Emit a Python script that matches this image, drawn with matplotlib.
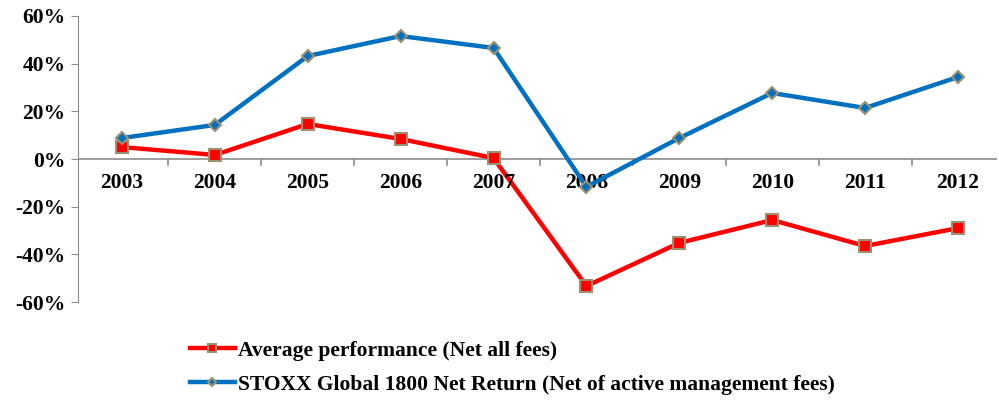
import matplotlib.pyplot as plt
from matplotlib.ticker import FuncFormatter

years = ['2003', '2004', '2005', '2006', '2007', '2008', '2009', '2010', '2011', '2012']
avg_perf = [5.0, 1.7, 14.7, 8.4, 0.4, -53.3, -35.2, -25.6, -36.5, -29.0]
stoxx = [8.8, 14.3, 43.2, 51.6, 46.6, -11.7, 8.8, 27.7, 21.4, 34.4]
y_ticks = [-60, -40, -20, 0, 20, 40, 60]

plt.rcParams['font.family'] = ['Liberation Serif', 'DejaVu Serif']
plt.rcParams['font.weight'] = 'bold'

fig = plt.figure(figsize=(9.99, 4.03), dpi=100)
ax = fig.add_axes([0.078, 0.2506, 0.92, 0.7097])

x = list(range(len(years)))
ax.plot(x, avg_perf, color='#ff0000', lw=3.2, marker='s', ms=8,
        mfc='#ff0000', mec='#9c9070', mew=1.5,
        label='Average performance (Net all fees)', zorder=3)
ax.plot(x, stoxx, color='#0070c0', lw=3.2, marker='D', ms=6,
        mfc='#0070c0', mec='#9c9070', mew=1.5,
        label='STOXX Global 1800 Net Return (Net of active management fees)', zorder=4)

ax.set_xlim(-0.474, 9.42)
ax.set_ylim(-60, 60)
ax.set_yticks(y_ticks)
ax.yaxis.set_major_formatter(FuncFormatter(lambda v, p: '%d%%' % v))

for s in ['top', 'right', 'bottom']:
    ax.spines[s].set_visible(False)
ax.spines['left'].set_color('#8c8c8c')
ax.axhline(0, color='#8c8c8c', lw=1.2, zorder=1)

# category labels sit just under the zero line
ax.set_xticks([])
for i, yr in enumerate(years):
    ax.text(i, -10, yr, ha='center', va='center', fontsize=15.5, fontweight='bold')
for b in [i + 0.5 for i in range(len(years) - 1)]:
    ax.plot([b, b], [0, -2.5], color='#8c8c8c', lw=1.2, zorder=1)

ax.tick_params(axis='y', length=5, color='#8c8c8c', labelsize=15.5, pad=4)

fig.legend(loc='upper left', bbox_to_anchor=(0.190, 0.155), frameon=False,
           fontsize=15.5, handlelength=2.1, handletextpad=0.15, labelspacing=0.65,
           markerscale=0.65, borderpad=0, borderaxespad=0)

fig.savefig('out.png', dpi=100)
